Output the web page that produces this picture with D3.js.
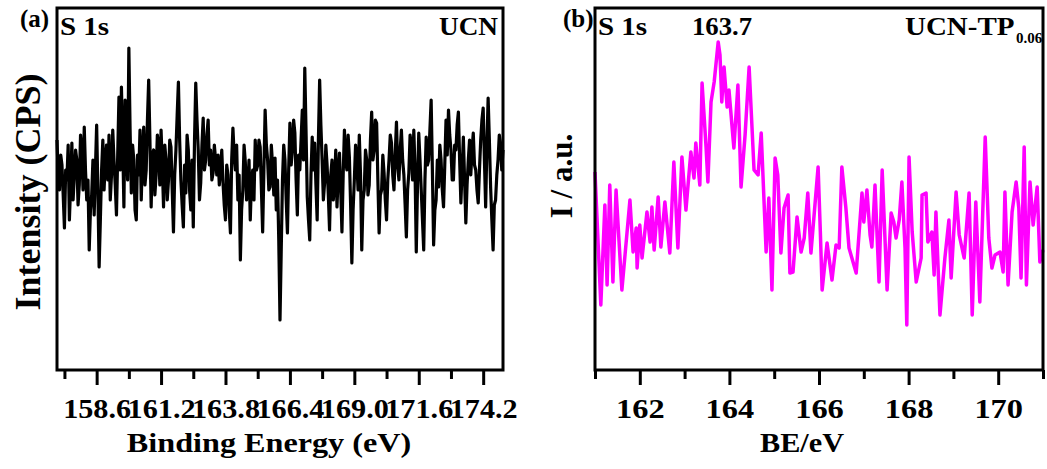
<!DOCTYPE html>
<html>
<head>
<meta charset="utf-8">
<script src="https://cdn.jsdelivr.net/npm/d3@7"></script>
<style>
  html, body { margin: 0; padding: 0; background: #fff; }
  svg text { font-family: "Liberation Serif", "Times New Roman", serif; font-weight: bold; fill: #000; }
</style>
</head>
<body>
<svg id="chart" width="1047" height="469"></svg>
<script>
// ---------------- Panel (a): UCN, S 1s ----------------
const ucnStart = 157.0;      // eV, first sample
const ucnStep = 0.05;        // eV, sampling step
const ucnIntensity = [
  230,195,180,215,205,175,142,200,190,225,150,185,227,170,195,220,210,165,185,235,
  220,180,243,200,170,190,120,160,175,210,155,200,245,180,103,150,200,230,180,210,
  225,190,235,170,195,240,210,185,155,215,273,200,283,230,163,270,230,190,322,240,
  177,225,210,160,150,215,195,240,170,215,243,185,200,250,290,230,163,215,220,175,
  195,235,225,185,240,205,163,225,210,170,190,230,223,180,138,195,220,255,288,230,
  190,165,143,205,177,235,220,180,160,210,143,230,287,250,220,170,187,225,252,200,
  210,235,250,205,220,190,197,225,210,195,215,185,200,220,187,165,150,205,195,160,
  137,210,242,215,200,225,170,195,110,160,180,225,208,170,185,210,150,190,200,170,
  230,200,205,230,223,180,138,200,260,225,210,180,183,225,205,175,212,160,190,130,
  50,120,190,225,210,170,137,200,247,205,220,250,237,190,155,215,200,230,260,210,
  302,240,173,150,130,195,233,200,227,185,150,230,290,245,210,170,187,225,205,175,
  140,195,210,170,185,220,163,195,217,180,138,195,240,210,200,235,213,165,107,160,
  190,225,210,180,235,195,120,170,180,220,210,175,185,230,258,210,220,250,247,190,
  137,175,180,215,197,170,150,190,210,235,227,195,180,215,248,205,190,220,240,210,
  195,165,133,180,197,235,225,190,240,200,118,185,237,210,180,150,120,190,233,205,
  210,240,270,200,125,160,170,210,183,225,210,180,163,205,250,215,260,235,220,190,
  190,225,220,245,258,210,167,200,233,190,147,185,210,230,195,220,237,205,200,180,
  167,200,230,250,262,210,163,225,272,230,183,150,120,165,170,195,210,235,227,200,
  220
];
const ucnTicks = [158.6, 161.2, 163.8, 166.4, 169.0, 171.6, 174.2];
const ucnMinorTicks = [157.3, 159.9, 162.5, 165.1, 167.7, 170.3, 172.9];

// ---------------- Panel (b): UCN-TP0.06, S 1s ----------------
const tpEnergy = [
  161.00,161.13,161.22,161.27,161.33,161.40,161.47,161.60,161.78,161.85,
  161.92,161.94,162.00,162.05,162.16,162.23,162.27,162.32,162.41,162.47,
  162.56,162.67,162.76,162.85,162.94,163.03,163.14,163.21,163.25,163.34,
  163.39,163.48,163.52,163.59,163.66,163.75,163.79,163.83,163.88,163.95,
  163.99,164.10,164.19,164.26,164.35,164.44,164.55,164.64,164.71,164.82,
  164.88,164.95,165.02,165.08,165.15,165.22,165.31,165.35,165.42,165.51,
  165.60,165.67,165.75,165.82,165.98,166.03,166.07,166.18,166.29,166.38,
  166.45,166.51,166.60,166.67,166.83,166.96,167.00,167.07,167.14,167.18,
  167.25,167.34,167.41,167.52,167.61,167.67,167.72,167.79,167.85,167.92,
  167.96,168.01,168.08,168.17,168.28,168.30,168.39,168.43,168.52,168.57,
  168.61,168.70,168.81,168.90,168.95,169.06,169.13,169.24,169.35,169.42,
  169.50,169.59,169.71,169.79,169.86,169.93,170.04,170.11,170.15,170.22,
  170.31,170.40,170.46,170.51,170.58,170.63,170.71,170.78,170.87,170.93,
  171.00
];
const tpIntensity = [
  198,65,165,85,185,88,180,80,170,118,
  142,102,145,112,158,128,163,120,173,123,
  168,117,208,122,213,160,218,192,227,185,
  287,222,188,268,288,328,315,268,303,263,
  280,222,285,183,235,303,200,195,237,118,
  172,80,212,195,117,162,175,97,98,153,
  118,132,177,117,203,138,80,127,90,125,
  122,203,162,122,97,177,148,180,135,123,
  185,88,200,80,157,148,132,150,188,122,
  45,213,138,88,112,175,177,128,138,95,
  158,55,112,150,92,178,135,112,177,55,
  168,68,233,132,102,115,118,98,178,85,
  158,188,162,92,223,85,188,145,183,108,
  120
];
const tpTicks = [162, 164, 166, 168, 170];
const tpMinorTicks = [161, 163, 165, 167, 169, 171];

const yDomain = [0, 362];

// ---------------- Drawing ----------------
const svg = d3.select("#chart");
const plotTop = 8, plotBottom = 370;

function panel(opts) {
  const g = svg.append("g");
  const x = d3.scaleLinear().domain(opts.xDomain).range([opts.left, opts.right]);
  const y = d3.scaleLinear().domain(yDomain).range([plotBottom, plotTop]);

  const line = d3.line().x(d => x(d[0])).y(d => y(d[1]));
  g.append("path")
    .datum(opts.data)
    .attr("d", line)
    .attr("fill", "none")
    .attr("stroke", opts.color)
    .attr("stroke-width", opts.lw)
    .attr("stroke-linejoin", "round");

  const minor = g.append("g")
    .attr("transform", `translate(0,${plotBottom})`)
    .call(d3.axisBottom(x).tickValues(opts.minor).tickSize(9).tickFormat(""));
  minor.select(".domain").remove();
  minor.selectAll("line").attr("stroke", "#000").attr("stroke-width", 3);

  const major = g.append("g")
    .attr("transform", `translate(0,${plotBottom})`)
    .call(d3.axisBottom(x).tickValues(opts.major).tickSize(15).tickPadding(14).tickFormat(opts.fmt));
  major.select(".domain").remove();
  major.selectAll("line").attr("stroke", "#000").attr("stroke-width", 3);
  major.selectAll("text")
    .attr("font-size", 27)
    .attr("font-family", "Liberation Serif, serif")
    .attr("font-weight", "bold")
    .attr("fill", "#000")
    .attr("transform", `scale(${opts.labelScale},1)`);

  g.append("rect")
    .attr("x", opts.left).attr("y", plotTop)
    .attr("width", opts.right - opts.left).attr("height", plotBottom - plotTop)
    .attr("fill", "none").attr("stroke", "#000").attr("stroke-width", 3);

  return { g, x, y };
}

panel({
  xDomain: [157, 175], left: 57, right: 503, lw: 3.2,
  data: ucnIntensity.map((v, i) => [ucnStart + i * ucnStep, v]),
  color: "#000", major: ucnTicks, minor: ucnMinorTicks, fmt: d3.format(".1f"), labelScale: 1.12
});
panel({
  xDomain: [161, 171], left: 595, right: 1043, lw: 3.5,
  data: tpEnergy.map((e, i) => [e, tpIntensity[i]]),
  color: "#ff00ff", major: tpTicks, minor: tpMinorTicks, fmt: d3.format("d"), labelScale: 1.2
});

// text with horizontal stretch sx around anchor point
function txt(x, y, s, size, anchor, sx) {
  const g = svg.append("g").attr("transform", `translate(${x},${y}) scale(${sx || 1},1)`);
  return g.append("text").attr("x", 0).attr("y", 0).attr("font-size", size)
    .attr("text-anchor", anchor || "start").text(s);
}
txt(20, 27, "(a)", 25);
txt(60, 35, "S 1s", 25, "start", 1.16);
txt(498, 35, "UCN", 25, "end", 1.09);
txt(269, 452, "Binding Energy (eV)", 28, "middle", 1.15);
svg.append("text").attr("transform", "translate(40,192) rotate(-90)")
  .attr("text-anchor", "middle").attr("font-size", 36).text("Intensity (CPS)");

txt(563, 27, "(b)", 25);
txt(598, 35, "S 1s", 25, "start", 1.16);
txt(722, 35, "163.7", 25, "middle", 1.07);
txt(905, 35, "UCN-TP", 25, "start", 1.16);
txt(1016, 43, "0.06", 15, "start");
txt(802, 452, "BE/eV", 28, "middle", 1.08);
svg.append("text").attr("transform", "translate(572,176) rotate(-90)")
  .attr("text-anchor", "middle").attr("font-size", 31).text("I / a.u.");
</script>
</body>
</html>
